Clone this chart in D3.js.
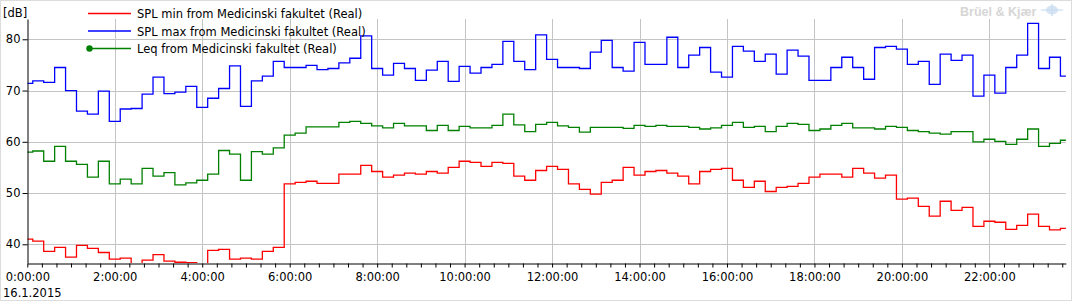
<!DOCTYPE html>
<html><head><meta charset="utf-8">
<script src="https://cdn.jsdelivr.net/npm/d3@7"></script>
<style>
html,body{margin:0;padding:0;background:#fff;}
svg{display:block;font-family:"DejaVu Sans",Verdana,sans-serif;}
</style></head>
<body><svg id="chart" width="1072" height="301"></svg>
<script>
// ---- data (15-minute values, 16.1.2015, starting 0:00:00) ----
const startTime = "2015-01-16T00:00:00";
const intervalMinutes = 15;
const seriesNames = ["SPL min from Medicinski fakultet (Real)", "SPL max from Medicinski fakultet (Real)", "Leq from Medicinski fakultet (Real)"];
const seriesColors = ["#ff0000", "#0000ff", "#008000"];
const splMin = [41.0,40.6,38.6,39.4,37.5,39.8,39.2,38.4,37.1,37.3,
  36.0,36.9,38.0,36.7,36.5,36.4,35.0,38.8,39.0,37.1,
  37.3,37.1,38.6,39.4,51.8,52.1,52.3,51.9,51.9,53.7,
  53.7,55.4,54.2,53.1,53.5,53.9,53.7,54.2,53.9,55.0,
  56.2,56.0,55.2,56.0,55.8,53.3,52.5,54.4,55.2,54.6,
  51.8,50.7,49.8,52.1,52.5,55.0,53.5,54.2,54.4,53.9,
  53.3,51.8,54.2,54.6,54.8,52.5,51.1,52.3,50.3,51.1,
  51.3,51.9,53.1,53.7,53.7,53.1,54.8,53.9,52.9,53.5,
  48.8,49.0,47.4,45.5,48.4,46.6,47.2,43.5,44.5,44.3,
  42.9,43.7,45.9,43.5,42.8,43.1];
const splMax = [71.4,71.9,71.6,74.5,70.0,66.0,65.4,69.9,64.0,66.4,
  66.5,69.3,72.6,69.4,69.7,70.8,66.7,68.5,70.4,74.8,
  66.9,71.9,72.8,75.7,74.5,74.5,74.9,74.1,74.3,75.4,
  76.3,80.65,74.3,73.0,75.3,74.3,72.0,74.0,75.7,71.8,
  74.7,73.4,74.5,75.1,79.6,75.7,74.1,80.85,76.1,74.5,
  74.5,74.3,77.5,79.8,74.5,73.8,79.4,75.1,75.1,80.4,
  74.5,76.9,78.4,73.6,72.6,78.6,77.7,75.7,77.1,73.2,
  77.9,76.7,72.0,72.0,74.5,76.5,74.5,72.2,78.4,78.6,
  78.1,75.1,75.7,71.2,77.1,75.9,76.9,68.9,73.0,69.5,
  74.5,76.9,83.1,74.3,76.5,72.8];
const leq = [58.0,58.2,56.2,59.1,56.2,55.6,53.1,56.2,51.8,52.7,
  51.8,54.8,53.3,54.0,51.6,52.0,52.5,53.7,58.3,57.6,
  52.5,58.1,57.6,58.8,61.3,61.7,62.9,62.9,62.9,63.8,
  64.0,63.6,63.1,62.7,63.6,63.1,63.1,62.2,63.2,62.2,
  63.0,62.7,62.7,63.2,65.4,63.3,62.0,63.4,63.8,63.1,
  62.8,61.9,62.8,62.8,62.8,62.6,63.2,63.0,63.2,63.0,
  63.0,62.8,62.5,62.7,63.2,63.8,62.8,63.0,62.0,63.0,
  63.6,63.4,62.2,62.5,63.2,63.6,62.7,62.7,62.5,63.0,
  62.8,62.2,62.0,61.7,61.5,62.0,62.0,60.0,60.5,60.1,
  59.5,60.5,62.5,59.1,59.7,60.3];
const yTicks = [40, 50, 60, 70, 80];
const yUnit = "[dB]";
const dateLabel = "16.1.2015";
const brandText = "Brüel & Kjær";

// ---- layout ----
const svg = d3.select("#chart");
const W = 1072, H = 301;
const pLeft = 27.3, pRight = 1065.9, pTop = 19, pBottom = 263;

const t0 = new Date(startTime);
const times = splMax.map((_, i) => d3.timeMinute.offset(t0, i * intervalMinutes));

const x = d3.scaleTime().domain([times[0], times[times.length - 1]]).range([pLeft, pRight]);
const y = d3.scaleLinear().domain([36.35, 83.96]).range([pBottom, pTop]);

// border
svg.append("rect").attr("x", 0.5).attr("y", 0.5).attr("width", W - 1).attr("height", H - 1)
  .attr("fill", "none").attr("stroke", "#b8b8b8").attr("stroke-dasharray", "1,1");

// gridlines
const gridTimes = d3.timeHour.every(2).range(times[0], d3.timeMinute.offset(times[times.length - 1], 1));
svg.append("g").selectAll("line").data(yTicks).join("line")
  .attr("x1", pLeft).attr("x2", pRight)
  .attr("y1", d => Math.round(y(d)) + 0.5).attr("y2", d => Math.round(y(d)) + 0.5)
  .attr("stroke", "#c4c4c4").attr("stroke-width", 1);
svg.append("g").selectAll("line").data(gridTimes.slice(1)).join("line")
  .attr("x1", d => Math.round(x(d)) + 0.5).attr("x2", d => Math.round(x(d)) + 0.5)
  .attr("y1", pTop).attr("y2", pBottom)
  .attr("stroke", "#c4c4c4").attr("stroke-width", 1);

// clip
svg.append("clipPath").attr("id", "plotclip").append("rect")
  .attr("x", pLeft).attr("y", pTop).attr("width", pRight - pLeft + 1).attr("height", pBottom - pTop);

const line = d3.line().curve(d3.curveStep)
  .x((d, i) => x(times[i])).y(d => y(d));

const plot = svg.append("g").attr("clip-path", "url(#plotclip)");
[splMin, splMax, leq].forEach((s, k) => {
  plot.append("path").attr("d", line(s)).attr("fill", "none")
    .attr("stroke", seriesColors[k]).attr("stroke-width", 1.3);
});

// y axis
const yAxis = d3.axisLeft(y).tickValues(yTicks).tickSize(5).tickSizeOuter(0).tickPadding(2);
const gy = svg.append("g").attr("transform", `translate(${Math.round(pLeft) + 0.5},0)`).call(yAxis);
gy.select(".domain").attr("stroke", "#000");
gy.selectAll("text").attr("font-size", "11.5px").attr("fill", "#000")
  .attr("font-family", "DejaVu Sans, Verdana, sans-serif");

// x axis
const xAxis = d3.axisBottom(x).ticks(d3.timeMinute.every(20)).tickSize(4).tickSizeOuter(0)
  .tickFormat(d => (d.getMinutes() === 0 && d.getHours() % 2 === 0) ? d3.timeFormat("%-H:%M:%S")(d) : "");
const gxA = svg.append("g").attr("transform", `translate(0,${pBottom + 0.5})`).call(xAxis);
gxA.select(".domain").attr("stroke", "#000");
gxA.selectAll("text").attr("font-size", "11.5px").attr("fill", "#000").attr("dy", "0.95em")
  .attr("font-family", "DejaVu Sans, Verdana, sans-serif");

// texts
svg.append("text").attr("x", 3).attr("y", 16.5).attr("font-size", "11.5px").text(yUnit);
svg.append("text").attr("x", 3).attr("y", 296.5).attr("font-size", "11.5px").text(dateLabel);

// legend
const legY = [13.5, 31, 48.5];
const leg = svg.append("g");
seriesNames.forEach((n, k) => {
  leg.append("line").attr("x1", 88).attr("x2", 131).attr("y1", legY[k]).attr("y2", legY[k])
    .attr("stroke", seriesColors[k]).attr("stroke-width", 1.3);
  leg.append("text").attr("x", 137).attr("y", legY[k] + 4.5).attr("font-size", "11.5px")
    .attr("fill", "#000").text(n);
});
leg.append("circle").attr("cx", 89.5).attr("cy", legY[2]).attr("r", 3.2).attr("fill", "#008000");

// brand
svg.append("text").attr("x", 960).attr("y", 15.5).attr("font-size", "12.5px").attr("font-weight", "bold")
  .attr("font-family", "Liberation Sans, Arial, sans-serif")
  .attr("fill", "#d6d6d6").text(brandText);
const ic = svg.append("g").attr("transform", "translate(1052,10)").attr("stroke", "#c9dcf0").attr("fill", "none");
ic.append("ellipse").attr("rx", 6).attr("ry", 4.5).attr("fill", "#d6e4f4").attr("stroke", "none");
ic.append("line").attr("x1", -11).attr("x2", 11).attr("y1", 0).attr("y2", 0).attr("stroke-width", 1.2);
ic.append("line").attr("x1", 0).attr("x2", 0).attr("y1", -6).attr("y2", 6).attr("stroke-width", 1.2);
</script></body></html>
